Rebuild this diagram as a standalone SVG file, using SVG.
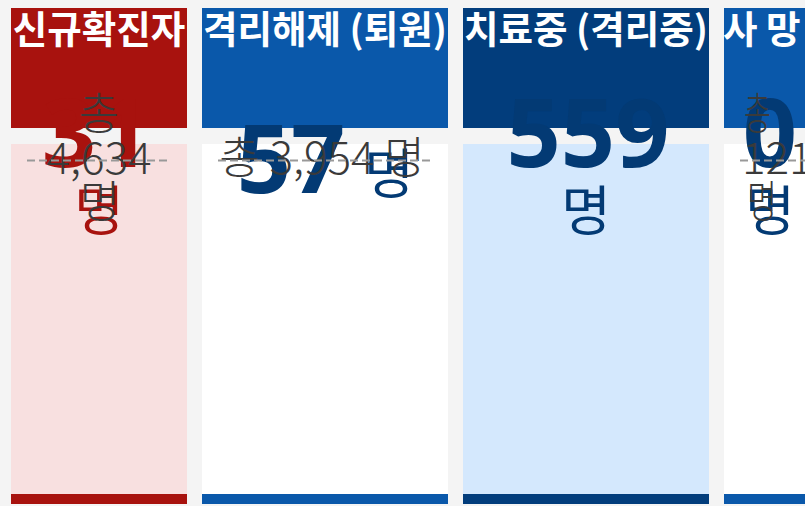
<svg xmlns="http://www.w3.org/2000/svg" width="805" height="506" viewBox="0 0 805 506">
<style>
.hd{font-family:"Noto Sans CJK KR","Noto Sans",sans-serif;font-weight:700;font-size:37.5px;fill:#ffffff}
.num{font-family:"Noto Sans","Noto Sans CJK KR",sans-serif;font-weight:700;font-size:95px}
.unit{font-family:"Noto Sans CJK KR",sans-serif;font-weight:400;font-size:54px}
.tot{font-family:"Noto Sans CJK KR","Noto Sans",sans-serif;font-weight:300;font-size:44px;fill:#3a3a3a}
.red{fill:#a8120e}
.blue{fill:#033a74}
.dash{stroke:#999999;stroke-width:2;stroke-dasharray:8 4;fill:none}
</style>
<rect x="0" y="0" width="805" height="506" fill="#f4f4f4"/>
<g id="card-new">
<rect x="11" y="8" width="176" height="120" fill="#a8120e"/>
<rect x="11" y="144" width="176" height="350" fill="#f8e0e0"/>
<rect x="11" y="494" width="176" height="10" fill="#a8120e"/>
<text class="hd" x="99" y="43" text-anchor="middle">신규확진자</text>
<text class="num red" x="96" y="167" text-anchor="middle">31</text>
<text class="unit red" x="99" y="231" text-anchor="middle">명</text>
<text class="tot" x="99" y="130" text-anchor="middle">총</text>
<text class="tot" x="99" y="174" text-anchor="middle">4,634</text>
<text class="tot" x="100" y="218" text-anchor="middle">명</text>
<line class="dash" x1="27" y1="160.5" x2="171" y2="160.5"/>
</g>
<g id="card-released">
<rect x="202" y="8" width="246" height="120" fill="#0a58aa"/>
<rect x="202" y="144" width="246" height="350" fill="#ffffff"/>
<rect x="202" y="494" width="246" height="10" fill="#0a58aa"/>
<text class="hd" x="325" y="43" text-anchor="middle">격리해제 (퇴원)</text>
<text class="num blue" x="291" y="193" text-anchor="middle">57</text>
<text class="unit blue" x="389" y="194" text-anchor="middle">명</text>
<text class="tot" x="322" y="174" text-anchor="middle">총 3,954 명</text>
<line class="dash" x1="218" y1="160.5" x2="432" y2="160.5"/>
</g>
<g id="card-treatment">
<rect x="463" y="8" width="246" height="120" fill="#023d7c"/>
<rect x="463" y="144" width="246" height="350" fill="#d4e8fd"/>
<rect x="463" y="494" width="246" height="10" fill="#023d7c"/>
<text class="hd" x="586" y="43" text-anchor="middle">치료중 (격리중)</text>
<text class="num blue" x="588" y="167" text-anchor="middle">559</text>
<text class="unit blue" x="586" y="231" text-anchor="middle">명</text>
</g>
<g id="card-death">
<rect x="724" y="8" width="246" height="120" fill="#0a58aa"/>
<rect x="724" y="144" width="246" height="350" fill="#ffffff"/>
<rect x="724" y="494" width="246" height="10" fill="#0a58aa"/>
<text class="hd" x="723" y="43">사 망</text>
<text class="num blue" x="770" y="167" text-anchor="middle">0</text>
<text class="unit blue" x="770" y="231" text-anchor="middle">명</text>
<text class="tot" x="744" y="130" textLength="27" lengthAdjust="spacingAndGlyphs">총</text>
<text class="tot" x="742" y="174">121</text>
<text class="tot" x="747" y="218" textLength="30" lengthAdjust="spacingAndGlyphs">명</text>
<line class="dash" x1="740" y1="160.5" x2="805" y2="160.5"/>
</g>
<g id="connectors"></g>
</svg>
